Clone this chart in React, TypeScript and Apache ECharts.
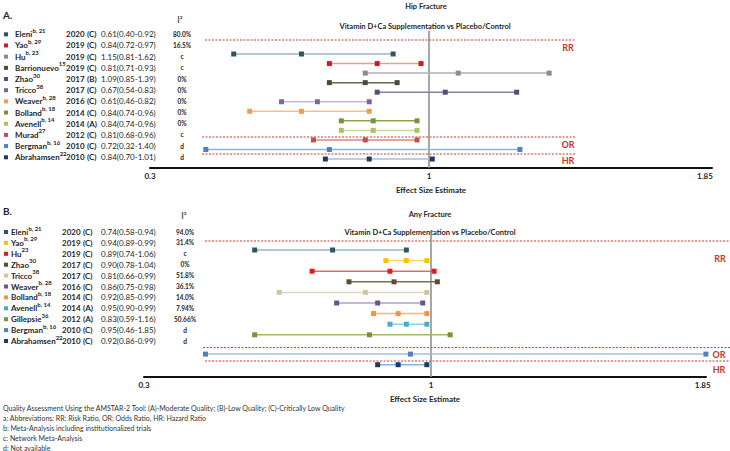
import React, { useEffect, useRef } from "react";
import * as echarts from "echarts";

// ---------- Panel A: Hip fracture ----------
const studiesA = ["Eleni", "Yao", "Hu", "Barrionuevo", "Zhao", "Tricco", "Weaver", "Bolland", "Avenell", "Murad", "Bergman", "Abrahamsen"];
const refsA = ["b, 21", "b, 29", "b, 23", "15", "30", "38", "b, 28", "b, 18", "b, 14", "27", "b, 16", "22"];
const yearsA = ["2020", "2019", "2019", "2019", "2017", "2017", "2016", "2014", "2014", "2012", "2010", "2010"];
const qualityA = ["(C)", "(C)", "(C)", "(C)", "(B)", "(C)", "(C)", "(C)", "(A)", "(C)", "(C)", "(C)"];
const estimatesA = ["0.61(0.40-0.92)", "0.84(0.72-0.97)", "1.15(0.81-1.62)", "0.81(0.71-0.93)", "1.09(0.85-1.39)", "0.67(0.54-0.83)", "0.61(0.46-0.82)", "0.84(0.74-0.96)", "0.84(0.74-0.96)", "0.81(0.68-0.96)", "0.72(0.32-1.40)", "0.84(0.70-1.01)"];
const i2A = ["80.0%", "16.5%", "c", "c", "0%", "0%", "0%", "0%", "0%", "c", "d", "d"];
const measureA = ["RR", "RR", "RR", "RR", "RR", "RR", "RR", "RR", "RR", "OR", "OR", "HR"];
// plotted markers (as drawn in the figure)
const lowA = [0.51, 0.75, 0.84, 0.75, 0.87, 0.63, 0.55, 0.78, 0.78, 0.71, 0.44, 0.74];
const midA = [0.68, 0.87, 1.09, 0.84, 1.05, 0.72, 0.68, 0.86, 0.86, 0.84, 0.75, 0.85];
const highA = [0.91, 0.98, 1.37, 0.92, 1.27, 0.85, 0.85, 0.97, 0.97, 0.97, 1.28, 1.01];

// ---------- Panel B: Any fracture ----------
const studiesB = ["Eleni", "Yao", "Hu", "Zhao", "Tricco", "Weaver", "Bolland", "Avenell", "Gillepsie", "Bergman", "Abrahamsen"];
const refsB = ["b, 21", "b, 29", "23", "30", "38", "b, 28", "b, 18", "b, 14", "36", "b, 16", "22"];
const yearsB = ["2020", "2019", "2019", "2017", "2017", "2016", "2014", "2014", "2012", "2010", "2010"];
const qualityB = ["(C)", "(C)", "(C)", "(C)", "(C)", "(C)", "(C)", "(A)", "(A)", "(C)", "(C)"];
const estimatesB = ["0.74(0.58-0.94)", "0.94(0.89-0.99)", "0.89(0.74-1.06)", "0.90(0.78-1.04)", "0.81(0.66-0.99)", "0.86(0.75-0.98)", "0.92(0.85-0.99)", "0.95(0.90-0.99)", "0.83(0.59-1.16)", "0.95(0.46-1.85)", "0.92(0.86-0.99)"];
const i2B = ["94.0%", "31.4%", "c", "0%", "51.8%", "36.1%", "14.0%", "7.94%", "50.66%", "d", "d"];
const measureB = ["RR", "RR", "RR", "RR", "RR", "RR", "RR", "RR", "RR", "OR", "HR"];
const lowB = [0.57, 0.89, 0.71, 0.80, 0.63, 0.77, 0.86, 0.90, 0.57, 0.45, 0.87];
const midB = [0.76, 0.94, 0.90, 0.91, 0.84, 0.87, 0.92, 0.94, 0.85, 0.95, 0.92];
const highB = [0.94, 0.99, 1.01, 1.02, 0.99, 0.98, 0.99, 0.99, 1.06, 1.86, 0.99];

const tickValues = [0.3, 1, 1.85];
const tickLabels = ["0.3", "1", "1.85"];

const notes = [
  "Quality Assessment Using the AMSTAR-2 Tool: (A)-Moderate Quality; (B)-Low Quality; (C)-Critically Low Quality",
  "a: Abbreviations: RR: Risk Ratio, OR: Odds Ratio, HR: Hazard Ratio",
  "b: Meta-Analysis including institutionalized trials",
  "c: Network Meta-Analysis",
  "d: Not available",
];

// ---------- styles ----------
const markerA = ["#2e5566", "#d7191f", "#8c8c8c", "#4d4a36", "#5b4a7a", "#8064a2", "#f39c4b", "#77933c", "#a9c466", "#c0504d", "#4f81bd", "#1f3864"];
const lineA = ["#9bb7c4", "#ef9a9a", "#b0b0b0", "#6b6750", "#8a7da0", "#c8b8dc", "#f7be8a", "#8aa350", "#c6d99a", "#d88a88", "#8fb0d8", "#a8c0e0"];
const markerB = ["#2e5566", "#f5c400", "#e01b24", "#5a4d32", "#cfc6a0", "#6b5293", "#f5953e", "#4bacc6", "#77933c", "#4f81bd", "#1f3864"];
const lineB = ["#9bb7c4", "#f8d860", "#e46a6a", "#7a6d52", "#ddd5b8", "#b0a0c8", "#f7b57a", "#8fd0e0", "#a2b86a", "#a6c0e0", "#8fb0d8"];

const FONT = "Lato, 'Liberation Sans', sans-serif";
const RED = "#c0392b";

// piecewise effect-size scale (the figure's axis is compressed above 1)
const kA = 0.8146;
const kB = 0.78;
const mapper = (k: number) => (v: number) => (v <= 1 ? v : 1 + (v - 1) * k);
const mapA = mapper(kA);
const mapB = mapper(kB);

function tickFormatter(map: (v: number) => number) {
  return (val: number) => {
    let best = 0;
    let bd = Infinity;
    tickValues.forEach((t, i) => {
      const d = Math.abs(map(t) - val);
      if (d < bd) {
        bd = d;
        best = i;
      }
    });
    return bd < 0.01 ? tickLabels[best] : "";
  };
}

function rowY(measures: string[], gap: number) {
  return measures.map((m, i) => i + (m === "RR" ? 0 : gap));
}

function text(x: number, y: number, t: string, o: any = {}) {
  return {
    type: "text",
    x,
    y,
    silent: true,
    style: {
      text: t,
      fontFamily: FONT,
      fontSize: o.fontSize ?? 7.5,
      fontWeight: o.fontWeight ?? "normal",
      fill: o.fill ?? "#262626",
      textAlign: o.align ?? "left",
      align: o.align ?? "left",
      textVerticalAlign: "middle",
      verticalAlign: "middle",
      rich: o.rich,
    },
  };
}

function dashed(x1: number, x2: number, y: number) {
  return {
    type: "line",
    silent: true,
    shape: { x1, y1: y, x2, y2: y },
    style: { stroke: RED, lineWidth: 1, lineDash: [2, 1.5] },
  };
}

function labelColumn(
  names: string[], refs: string[], years: string[], qual: string[], est: string[], i2: string[], colors: string[],
  top: number, step: number, cols: { name: number; year: number; q: number; est: number; i2: number }
) {
  const out: any[] = [];
  names.forEach((n, i) => {
    const y = top + i * step;
    out.push({ type: "rect", silent: true, shape: { x: 4, y: y - 2, width: 4, height: 4 }, style: { fill: colors[i] } });
    out.push(
      text(cols.name, y, `{n|${n}}{s|${refs[i]}}`, {
        rich: {
          n: { fontFamily: FONT, fontSize: 8, fontWeight: "bold", fill: "#262626", lineHeight: 14 },
          s: { fontFamily: FONT, fontSize: 6, fontWeight: "bold", fill: "#262626", lineHeight: 7, verticalAlign: "top" },
        },
      })
    );
    out.push(text(cols.year, y, years[i], { fontWeight: "bold", fontSize: 8 }));
    out.push(text(cols.q, y, qual[i], { fontWeight: "bold", fontSize: 8 }));
    out.push(text(cols.est, y, est[i], { fontSize: 8 }));
    out.push(text(cols.i2, y, i2[i], { fontSize: 6.5, fontWeight: "bold", align: "center" }));
  });
  return out;
}

function buildSeries(
  panel: number, low: number[], mid: number[], high: number[], ys: number[], markers: string[], lines: string[], map: (v: number) => number
) {
  return low.map((_, i) => {
    const s: any = {
      type: "line",
      xAxisIndex: panel,
      yAxisIndex: panel,
      data: [
        [map(low[i]), ys[i]],
        [map(mid[i]), ys[i]],
        [map(high[i]), ys[i]],
      ],
      symbol: "rect",
      symbolSize: 5,
      showSymbol: true,
      silent: true,
      clip: false,
      lineStyle: { color: lines[i], width: 1.5 },
      itemStyle: { color: markers[i] },
      z: 3,
    };
    if (i === 0) {
      s.markLine = {
        silent: true,
        symbol: ["none", "none"],
        label: { show: false },
        lineStyle: { color: "#8a8a8a", width: 1.5, type: "solid" },
        data: [{ xAxis: map(1) }],
        z: 1,
      };
    }
    return s;
  });
}

function xAxis(grid: number, max: number, map: (v: number) => number) {
  return {
    type: "value",
    gridIndex: grid,
    min: 0.3,
    max,
    axisLine: { show: true, onZero: false, lineStyle: { color: "#111", width: 2 } },
    axisTick: { show: false },
    splitLine: { show: false },
    axisLabel: {
      customValues: tickValues.map(map),
      formatter: tickFormatter(map),
      fontFamily: FONT,
      fontSize: 8,
      fontWeight: "bold",
      color: "#262626",
      margin: 4,
    },
    name: "Effect Size Estimate",
    nameLocation: "middle",
    nameGap: 18,
    nameTextStyle: { fontFamily: FONT, fontSize: 8, fontWeight: "bold", color: "#262626" },
  };
}

export default function App() {
  const ref = useRef<HTMLDivElement>(null);
  useEffect(() => {
    document.body.style.margin = "0";
    if (!ref.current) return;
    const chart = echarts.init(ref.current, undefined, { renderer: "svg" });

    const ysA = rowY(measureA, 0);
    const ysB = rowY(measureB, 0.82);

    const graphic: any[] = [
      text(3, 15, "A.", { fontSize: 10, fontWeight: "bold" }),
      text(180, 20, "I²", { fontSize: 8.5, fontWeight: "bold", align: "center", fill: "#555" }),
      text(426, 6, "Hip Fracture", { fontSize: 7.5, fontWeight: "bold", align: "center" }),
      text(425, 26, "Vitamin D+Ca Supplementation vs Placebo/Control", { fontSize: 7.5, fontWeight: "bold", align: "center" }),
      dashed(205, 575, 40),
      dashed(202, 575, 137),
      dashed(202, 576, 154),
      text(568, 47, "RR", { fontSize: 9, fontWeight: "bold", fill: RED, align: "center" }),
      text(568, 144, "OR", { fontSize: 9, fontWeight: "bold", fill: RED, align: "center" }),
      text(568, 160, "HR", { fontSize: 9, fontWeight: "bold", fill: RED, align: "center" }),
      ...labelColumn(studiesA, refsA, yearsA, qualityA, estimatesA, i2A, markerA, 34.3, 11.18, { name: 15, year: 66, q: 87, est: 101, i2: 182 }),

      text(3, 211, "B.", { fontSize: 10, fontWeight: "bold" }),
      text(184, 216, "I²", { fontSize: 8.5, fontWeight: "bold", align: "center", fill: "#555" }),
      text(430, 214, "Any Fracture", { fontSize: 7.5, fontWeight: "bold", align: "center" }),
      text(430, 232, "Vitamin D+Ca Supplementation vs Placebo/Control", { fontSize: 7.5, fontWeight: "bold", align: "center" }),
      dashed(205, 730, 241),
      dashed(203, 730, 347.6),
      dashed(205, 730, 361),
      text(720, 258, "RR", { fontSize: 9, fontWeight: "bold", fill: RED, align: "center" }),
      text(719, 354, "OR", { fontSize: 9, fontWeight: "bold", fill: RED, align: "center" }),
      text(719, 369, "HR", { fontSize: 9, fontWeight: "bold", fill: RED, align: "center" }),
      ...labelColumn(studiesB, refsB, yearsB, qualityB, estimatesB, i2B, markerB, 232, 10.9, { name: 11, year: 62, q: 83, est: 101, i2: 185 }),

      ...notes.map((n, i) => text(3, 408 + i * 10, n, { fontSize: 7, fill: "#333" })),
    ];

    chart.setOption({
      animation: false,
      backgroundColor: "#ffffff",
      grid: [
        { left: 150, top: 31, width: 562, height: 137 },
        { left: 144, top: 230, width: 562, height: 147 },
      ],
      xAxis: [xAxis(0, 1.71, mapA), xAxis(1, 1.671, mapB)],
      yAxis: [
        { type: "value", gridIndex: 0, inverse: true, min: -2.41, max: 11.94, show: false },
        { type: "value", gridIndex: 1, inverse: true, min: -1.887, max: 11.98, show: false },
      ],
      series: [
        ...buildSeries(0, lowA, midA, highA, ysA, markerA, lineA, mapA),
        ...buildSeries(1, lowB, midB, highB, ysB, markerB, lineB, mapB),
      ],
      graphic,
    });
    return () => chart.dispose();
  }, []);
  return <div ref={ref} style={{ width: 730, height: 451 }} />;
}
